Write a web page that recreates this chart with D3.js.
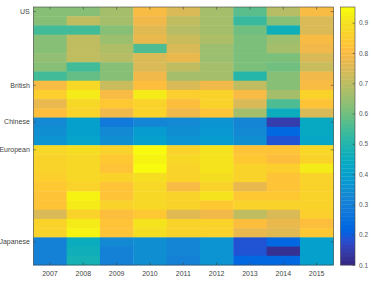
<!DOCTYPE html>
<html><head><meta charset="utf-8">
<script src="https://cdn.jsdelivr.net/npm/d3@7"></script>
<style>body{margin:0;background:#fff}svg{display:block}text{font-family:"Liberation Sans",Arial,sans-serif}</style>
</head><body><svg id="c" width="371" height="281"></svg>
<script>
const years = ["2007","2008","2009","2010","2011","2012","2013","2014","2015"];
const groupLabels = ["US","British","Chinese","European","Japanese"];
const groupStartRows = [0,8,12,15,25];
const colorTicks = [0.1,0.2,0.3,0.4,0.5,0.6,0.7,0.8,0.9];
const colorDomain = [0.1,0.952];
// values[row][yearIndex]
const usRows = [
 [0.62,0.63,0.67,0.80,0.74,0.67,0.57,0.69,0.80],
 [0.63,0.70,0.67,0.78,0.70,0.66,0.53,0.62,0.75],
 [0.55,0.55,0.63,0.76,0.69,0.66,0.60,0.47,0.75],
 [0.62,0.70,0.65,0.77,0.72,0.68,0.61,0.65,0.80],
 [0.62,0.70,0.68,0.56,0.74,0.65,0.61,0.66,0.78],
 [0.64,0.70,0.69,0.74,0.77,0.65,0.61,0.61,0.74],
 [0.62,0.55,0.62,0.74,0.70,0.67,0.61,0.60,0.72],
 [0.54,0.58,0.63,0.79,0.67,0.67,0.51,0.62,0.79]
];
const britishRows = [
 [0.80,0.88,0.72,0.81,0.75,0.78,0.71,0.62,0.80],
 [0.85,0.92,0.80,0.92,0.85,0.87,0.80,0.67,0.87],
 [0.77,0.88,0.84,0.87,0.81,0.86,0.75,0.56,0.82],
 [0.81,0.87,0.78,0.86,0.78,0.82,0.67,0.45,0.74]
];
const chineseRows = [
 [0.33,0.40,0.28,0.32,0.33,0.36,0.32,0.15,0.44],
 [0.35,0.40,0.33,0.38,0.34,0.37,0.33,0.23,0.44],
 [0.36,0.41,0.34,0.40,0.36,0.39,0.35,0.18,0.43]
];
const europeanRows = [
 [0.88,0.89,0.86,0.94,0.87,0.91,0.82,0.82,0.88],
 [0.87,0.88,0.84,0.93,0.88,0.90,0.84,0.81,0.87],
 [0.86,0.88,0.82,0.95,0.86,0.91,0.87,0.85,0.92],
 [0.85,0.88,0.86,0.89,0.87,0.89,0.86,0.82,0.87],
 [0.84,0.87,0.83,0.88,0.80,0.86,0.77,0.82,0.87],
 [0.83,0.93,0.83,0.88,0.87,0.90,0.84,0.84,0.87],
 [0.82,0.92,0.87,0.88,0.86,0.84,0.86,0.86,0.86],
 [0.74,0.87,0.81,0.84,0.76,0.78,0.71,0.74,0.85],
 [0.87,0.92,0.82,0.90,0.86,0.87,0.81,0.77,0.81],
 [0.86,0.93,0.82,0.89,0.86,0.86,0.77,0.76,0.84]
];
const japaneseRows = [
 [0.31,0.45,0.33,0.34,0.32,0.36,0.19,0.22,0.40],
 [0.31,0.47,0.31,0.35,0.32,0.36,0.19,0.12,0.40],
 [0.30,0.48,0.30,0.34,0.31,0.36,0.23,0.23,0.40]
];
const values = [].concat(usRows, britishRows, chineseRows, europeanRows, japaneseRows);

// MATLAB parula colormap (64 entries)
const parula = [[0.2081,0.1663,0.5292],[0.2116,0.1898,0.5777],[0.2123,0.2138,0.6270],[0.2081,0.2386,0.6771],[0.1959,0.2645,0.7279],[0.1707,0.2919,0.7792],[0.1253,0.3242,0.8303],[0.0591,0.3598,0.8683],[0.0117,0.3875,0.8820],[0.0060,0.4086,0.8828],[0.0165,0.4266,0.8786],[0.0329,0.4430,0.8720],[0.0498,0.4586,0.8641],[0.0629,0.4737,0.8554],[0.0723,0.4887,0.8467],[0.0779,0.5040,0.8384],[0.0793,0.5200,0.8312],[0.0749,0.5375,0.8263],[0.0641,0.5570,0.8240],[0.0488,0.5772,0.8228],[0.0343,0.5966,0.8199],[0.0265,0.6137,0.8135],[0.0239,0.6287,0.8038],[0.0231,0.6418,0.7913],[0.0228,0.6535,0.7768],[0.0267,0.6642,0.7607],[0.0384,0.6743,0.7436],[0.0590,0.6838,0.7254],[0.0843,0.6928,0.7062],[0.1133,0.7015,0.6859],[0.1453,0.7098,0.6646],[0.1801,0.7177,0.6424],[0.2178,0.7250,0.6193],[0.2586,0.7317,0.5954],[0.3022,0.7376,0.5712],[0.3482,0.7424,0.5473],[0.3953,0.7459,0.5244],[0.4420,0.7481,0.5033],[0.4871,0.7491,0.4840],[0.5300,0.7491,0.4661],[0.5709,0.7485,0.4494],[0.6099,0.7473,0.4337],[0.6473,0.7456,0.4188],[0.6834,0.7435,0.4044],[0.7184,0.7411,0.3905],[0.7525,0.7384,0.3768],[0.7858,0.7356,0.3633],[0.8185,0.7327,0.3498],[0.8507,0.7299,0.3360],[0.8824,0.7274,0.3217],[0.9139,0.7258,0.3063],[0.9450,0.7261,0.2886],[0.9739,0.7314,0.2666],[0.9938,0.7455,0.2403],[0.9990,0.7653,0.2164],[0.9955,0.7861,0.1967],[0.9880,0.8066,0.1794],[0.9789,0.8271,0.1633],[0.9697,0.8481,0.1475],[0.9626,0.8705,0.1309],[0.9589,0.8949,0.1132],[0.9598,0.9218,0.0948],[0.9661,0.9514,0.0755],[0.9763,0.9831,0.0538]]
  .map(c => d3.rgb(c[0]*255, c[1]*255, c[2]*255).formatHex());

const svg = d3.select("#c");
const L = 33.3, R = 333.3, T = 7, B = 265;
const x = d3.scaleBand().domain(years).range([L, R]);
const rowIdx = d3.range(values.length);
const y = d3.scaleBand().domain(rowIdx).range([T, B]);
const color = d3.scaleQuantize().domain(colorDomain).range(parula);

const cells = [];
values.forEach((row, r) => row.forEach((v, c) => cells.push({r, year: years[c], v})));
svg.append("g").selectAll("rect").data(cells).join("rect")
  .attr("x", d => x(d.year)).attr("y", d => y(d.r))
  .attr("width", x.bandwidth() + 0.4).attr("height", y.bandwidth() + 0.4)
  .attr("fill", d => color(d.v));

const axisColor = "#444";
const labelMap = new Map(groupStartRows.map((r, i) => [r, groupLabels[i]]));
function styleAxis(g) {
  g.selectAll(".domain").remove();
  g.selectAll("line").attr("stroke", axisColor).attr("stroke-width", 0.6);
  g.selectAll("text").attr("fill", "#444").attr("font-size", 7);
}
svg.append("g").attr("transform", `translate(${L},0)`)
  .call(d3.axisLeft(y).tickValues(groupStartRows).tickFormat(r => labelMap.get(r)).tickSizeInner(-2.5).tickPadding(3.5))
  .call(styleAxis);
svg.append("g").attr("transform", `translate(${R},0)`)
  .call(d3.axisRight(y).tickValues(groupStartRows).tickFormat("").tickSizeInner(-2.5))
  .call(styleAxis);
svg.append("g").attr("transform", `translate(0,${B})`)
  .call(d3.axisBottom(x).tickSizeInner(-2.5).tickPadding(6))
  .call(styleAxis);
svg.append("g").attr("transform", `translate(0,${T})`)
  .call(d3.axisTop(x).tickFormat("").tickSizeInner(-2.5))
  .call(styleAxis);
svg.append("rect").attr("x", L).attr("y", T).attr("width", R - L).attr("height", B - T)
  .attr("fill", "none").attr("stroke", axisColor).attr("stroke-width", 0.6);

// colorbar
const cbL = 340.5, cbW = 14.5;
const cy = d3.scaleLinear().domain(colorDomain).range([B, T]);
const step = (colorDomain[1] - colorDomain[0]) / parula.length;
svg.append("g").selectAll("rect").data(parula).join("rect")
  .attr("x", cbL).attr("width", cbW)
  .attr("y", (c, i) => cy(colorDomain[0] + (i + 1) * step))
  .attr("height", (c, i) => cy(colorDomain[0] + i * step) - cy(colorDomain[0] + (i + 1) * step) + 0.3)
  .attr("fill", c => c);
svg.append("g").attr("transform", `translate(${cbL + cbW},0)`)
  .call(d3.axisRight(cy).tickValues(colorTicks).tickFormat(d3.format(".1f")).tickSizeInner(-2.5).tickPadding(4))
  .call(styleAxis)
  .call(g => g.selectAll("text").attr("font-size", 6.5).attr("fill", "#555"));
svg.append("rect").attr("x", cbL).attr("y", T).attr("width", cbW).attr("height", B - T)
  .attr("fill", "none").attr("stroke", axisColor).attr("stroke-width", 0.6);
</script></body></html>
